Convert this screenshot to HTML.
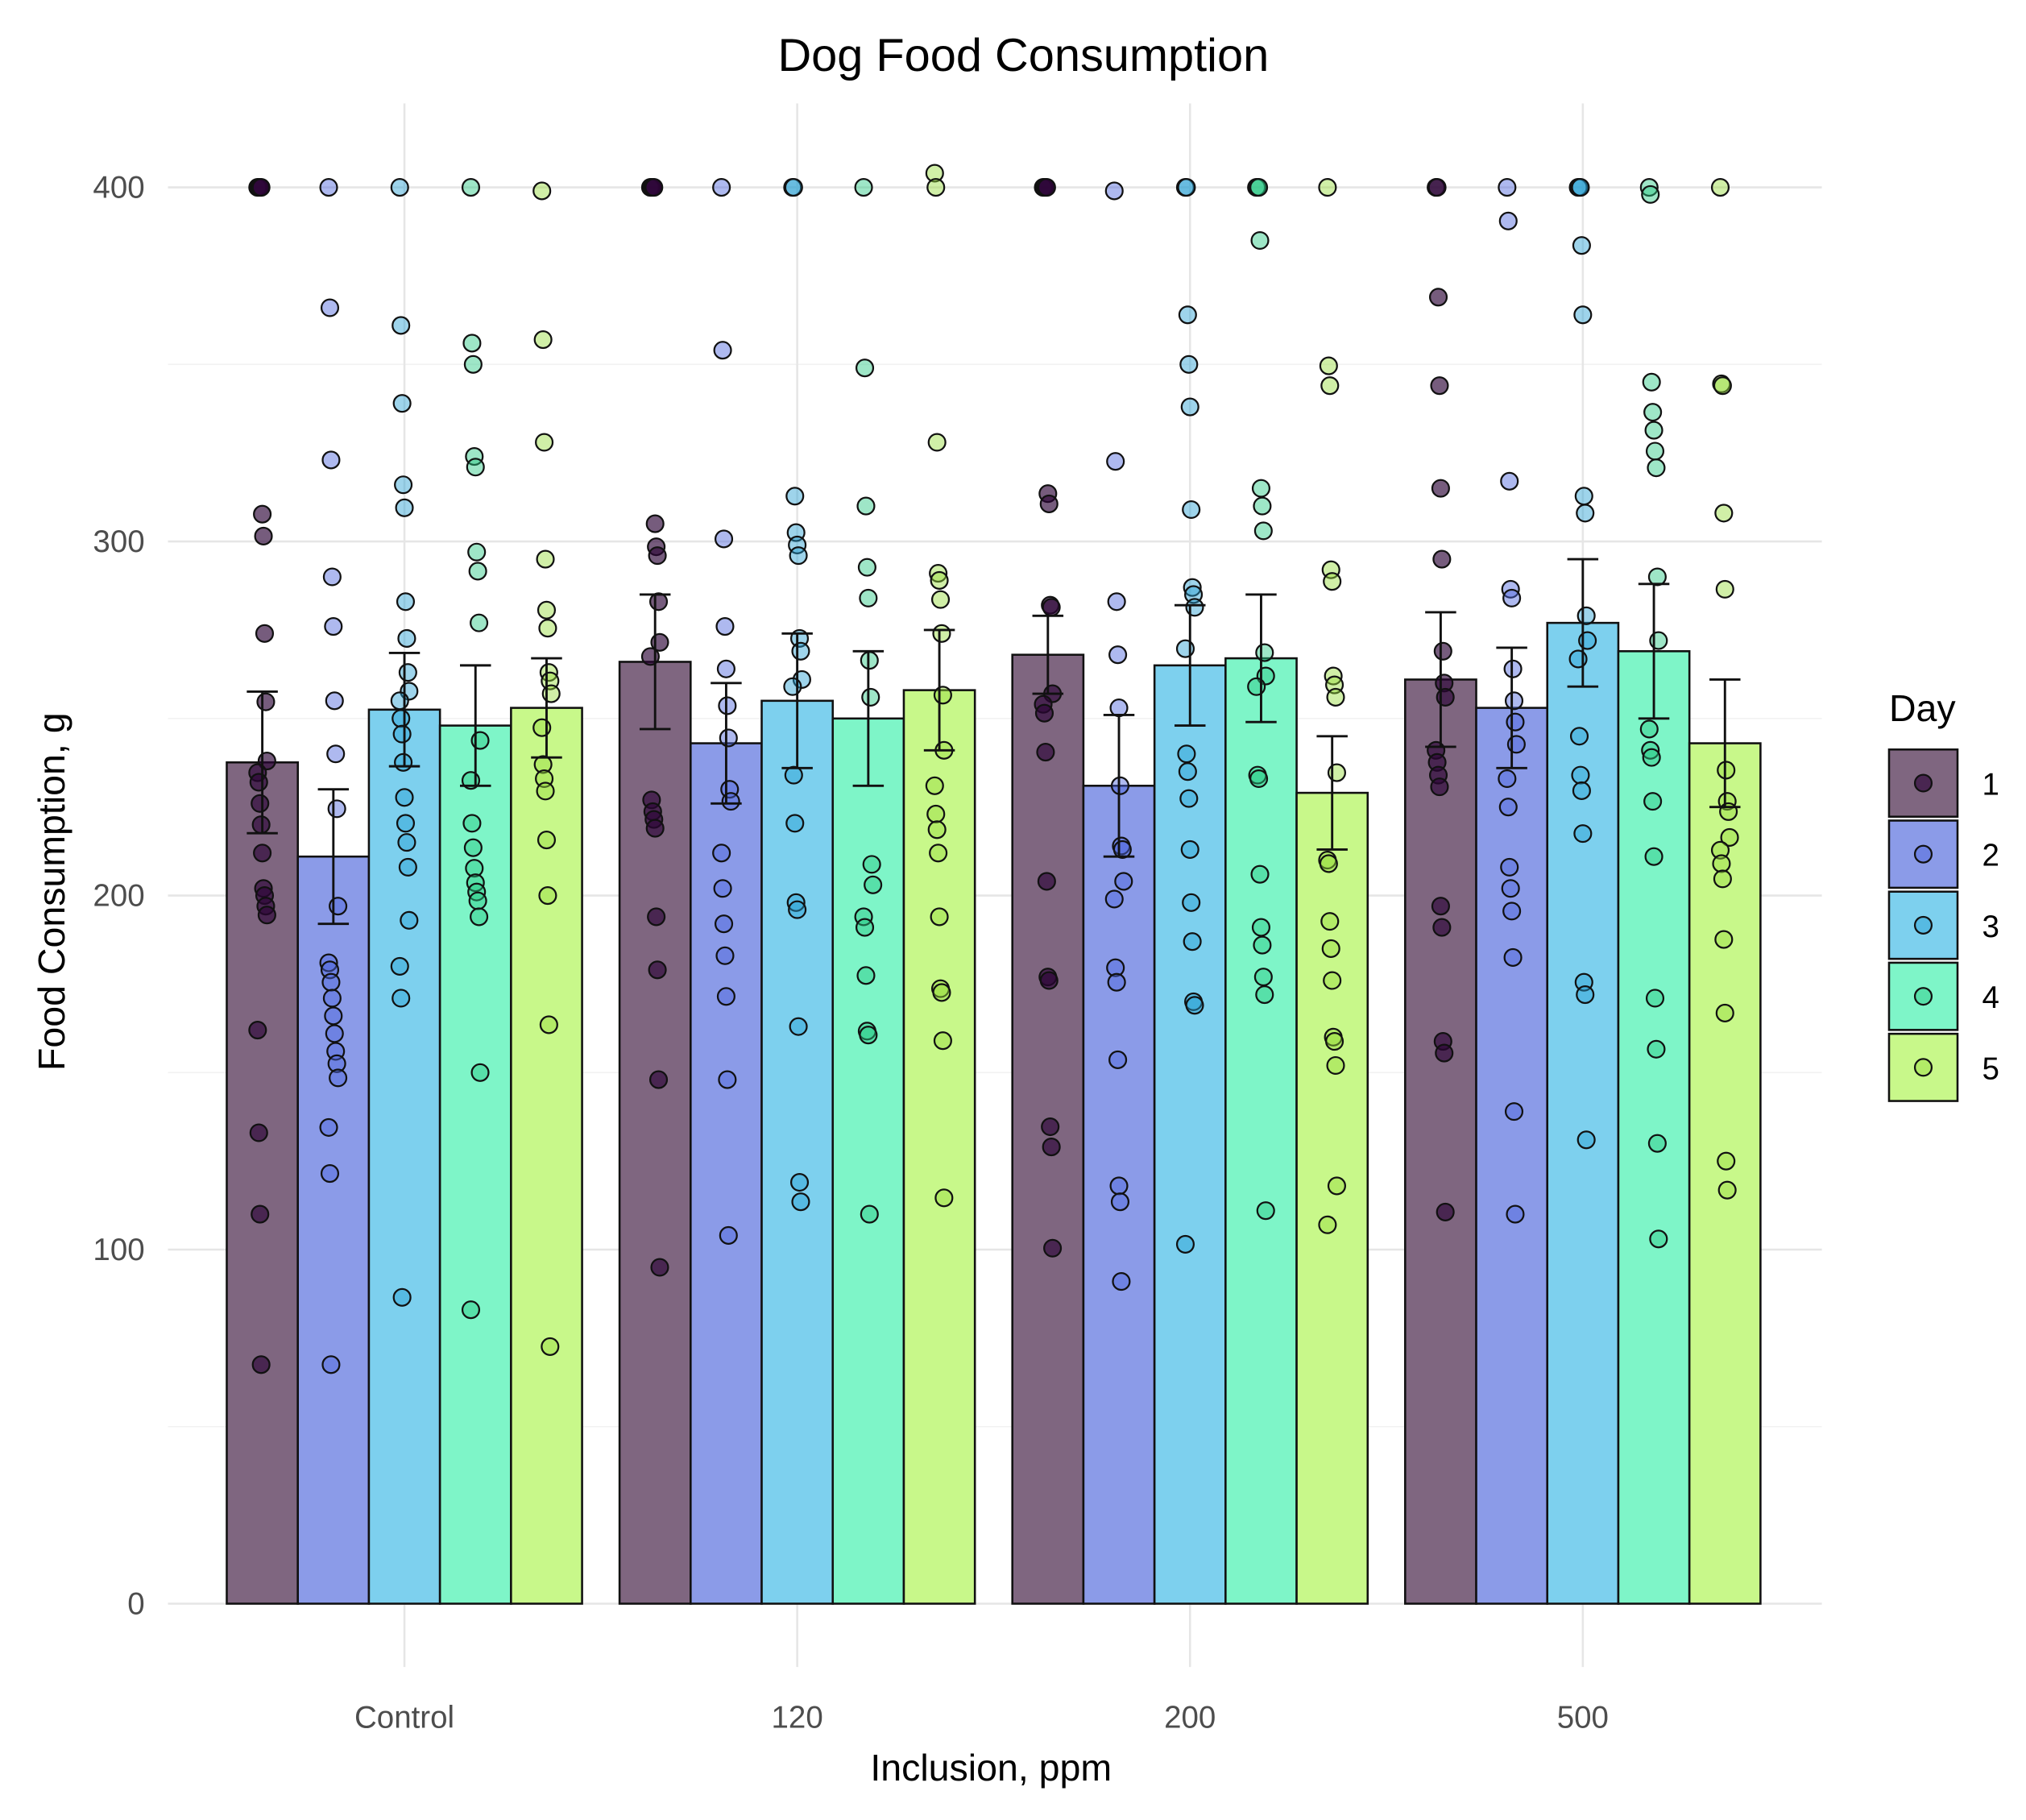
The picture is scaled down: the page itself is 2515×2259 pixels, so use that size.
<!DOCTYPE html>
<html><head><meta charset="utf-8"><style>
html,body{margin:0;padding:0;background:#fff;}
svg{display:block;font-family:"Liberation Sans",sans-serif;}
</style></head><body>
<svg id="chart" width="2515" height="2259" viewBox="0 0 1568 1408.4" preserveAspectRatio="none" xmlns="http://www.w3.org/2000/svg">
<g id="grid"></g>
<g id="bars"></g>
<g id="points"></g>
<g id="errs"></g>
<g id="axes"></g>
<text x="792" y="55" font-size="36" text-anchor="middle" fill="#000">Dog Food Consumption</text>
<text x="767" y="1378" font-size="29" text-anchor="middle" fill="#000">Inclusion, ppm</text>
<text transform="translate(50,690) rotate(-90)" font-size="29" text-anchor="middle" fill="#000">Food Consumption, g</text>
<g id="legend"></g>
</svg>
<script>
const groups = ["Control","120","200","500"];
const days = ["1","2","3","4","5"];
const means = [
  [237.6,211,252.5,248,253],
  [266,243,255,250,258],
  [268,231,265,267,229],
  [261,253,277,269,243]
];
const errs = [
  [20,19,16,17,14],
  [19,17,19,19,17],
  [11,20,17,18,16],
  [19,17,18,19,18]
];
const yTicks = [0,100,200,300,400];
const pts = [
 [[400,400,400,400,307.7,301.5,274,254.7,238,234.7,232,226,220,212,202,200,197,194.5,162,133,110,67.5],
  [400,366,323,290,276,255,240,224.5,197,181,179,175.5,171,166,161,156,152.5,148.5,134.5,121.5,67.5],
  [400,361,339,316,309.5,283,272.6,263,257.7,255,250,245.6,237.6,227.7,220.4,215,208,193,180,171,86.5],
  [400,356,350,324,321,297,291.6,277,243.8,232.5,220.4,213.5,207.7,203.6,201,198.5,194,150,83],
  [399,357,328,295,280.6,275.5,263,260.6,257,247.4,237,233,229.5,215.7,200,163.5,72.6]],
 [[400,400,400,400,305,298.5,296,283,271.5,267.5,227,223.7,221.5,219,194,179,148,95],
  [400,354,300.7,276,264,253.6,244.5,230,226.6,212,202,192,183,171.5,148,104],
  [400,400,312.8,302.5,299,296,272.6,269,261,259,234,220.4,198,196,163,119,113.5],
  [400,349,310,292.7,284,266.4,256,208.8,203,194,191,177.4,161.7,160.6,110],
  [404,400,328,291,289,283.6,274,256.6,241,231,223,218.6,212,194,173.7,172.6,159,114.6]],
 [[400,400,400,400,313.5,310.6,282,281.4,257,254,251.5,240.5,204,177,176,134.7,129,100.4],
  [399,322.6,283,268,253,231,214,213,204,199,179.6,175.5,153.6,118,113.5,91],
  [400,400,364,350,338,309,287,285,281.4,269.7,240,235,227.4,213,198,187,170,169,101.5],
  [400,400,400,385,315,310,303,268.6,262,259,234,233,206,191,186,177,172,111],
  [400,349.6,344,292,288.7,262,259.5,256,234.7,210,209,192.7,185,176,160,158.8,152,118,107]],
 [[400,400,369,344,315,295,269,260,256,241,237.6,234,230.7,197,191,158.8,155.5,110.6],
  [400,390.5,317,286.5,284,264,255,249,242.7,233,225,208,202,195.6,182.5,139,110],
  [400,400,400,383.6,364,312.8,308,279,272,266.8,245,234,229.6,217.5,175.5,172,131],
  [400,398,345,336.5,331.4,325.5,320.8,290,272,247,241,239,226.6,211,171,156.6,130,103],
  [400,344.5,344,308,286.5,235.4,226.6,223.7,216.4,212.8,209,204.7,187.6,166.8,125,116.8]]
];
const barColors = ["#7f6680","#8b9be8","#7dd0ee","#7ef5c8","#c8f88a"];
const ptColors = ["rgba(45,5,55,0.65)","rgba(75,100,220,0.45)","rgba(40,160,210,0.45)","rgba(40,200,130,0.45)","rgba(150,220,60,0.45)"];

const NS="http://www.w3.org/2000/svg";
const y0=1241, pxPer=2.74;
function yS(v){return y0 - v*pxPer;}
const groupCenter0=313, groupStep=304, barW=55;
function xBar(g,d){return groupCenter0 + g*groupStep + (d-2)*barW;}
function mk(tag,attrs,parent){const e=document.createElementNS(NS,tag);for(const k in attrs)e.setAttribute(k,attrs[k]);parent.appendChild(e);return e;}
const G=id=>document.getElementById(id);

for(let v=0; v<=400; v+=50){
  const l=mk('line',{x1:130,x2:1410,y1:yS(v),y2:yS(v),stroke:v%100===0?'#e6e6e6':'#f2f2f2','stroke-width':v%100===0?1.6:1},G('grid'));
  
  
}
groups.forEach((g,i)=>{
  const x=xBar(i,2);
  const l=mk('line',{x1:x,x2:x,y1:80,y2:1290,stroke:'#e6e6e6','stroke-width':1.6},G('grid'));
  
  
  const t=mk('text',{x:x,y:1337,'font-size':24,'text-anchor':'middle',fill:'#4d4d4d'},G('axes'));
  t.textContent=g;
  
  
});
yTicks.forEach(v=>{
  const t=mk('text',{x:112,y:yS(v)+8,'font-size':24,'text-anchor':'end',fill:'#4d4d4d'},G('axes'));
  t.textContent=v;
  
  
});
means.forEach((row,g)=>row.forEach((m,d)=>{
  const cx=xBar(g,d);
  const r=mk('rect',{x:cx-barW/2,y:yS(m),width:barW,height:yS(0)-yS(m),fill:barColors[d],stroke:'#111','stroke-width':1.6},G('bars'));
  
  
}));
pts.forEach((grp,g)=>grp.forEach((arr,d)=>{
  const cx=xBar(g,d);
  arr.forEach((v,k)=>{
    const jit=((k*37)%9-4)*0.9;
    const c=mk('circle',{cx:cx+jit,cy:yS(v),r:6.5,fill:ptColors[d],stroke:'#111','stroke-width':1.4},G('points'));
    
    
  });
}));
means.forEach((row,g)=>row.forEach((m,d)=>{
  const cx=xBar(g,d), e=errs[g][d];
  const gg=mk('g',{stroke:'#111','stroke-width':1.8},G('errs'));
  
  
  mk('line',{x1:cx,x2:cx,y1:yS(m+e),y2:yS(m-e)},gg);
  mk('line',{x1:cx-12,x2:cx+12,y1:yS(m+e),y2:yS(m+e)},gg);
  mk('line',{x1:cx-12,x2:cx+12,y1:yS(m-e),y2:yS(m-e)},gg);
}));
const lt=mk('text',{x:1462,y:558,'font-size':29,fill:'#000'},G('legend'));
lt.textContent='Day';


days.forEach((d,i)=>{
  const y=580+i*55;
  const g=mk('g',{},G('legend'));
  
  
  mk('rect',{x:1462,y:y,width:53,height:52,fill:barColors[i],stroke:'#111','stroke-width':1.6},g);
  mk('circle',{cx:1488.5,cy:y+26,r:6.5,fill:ptColors[i],stroke:'#111','stroke-width':1.4},g);
  const t=mk('text',{x:1534,y:y+35,'font-size':24,fill:'#000'},g);
  t.textContent=d;
});
</script>
</body></html>
